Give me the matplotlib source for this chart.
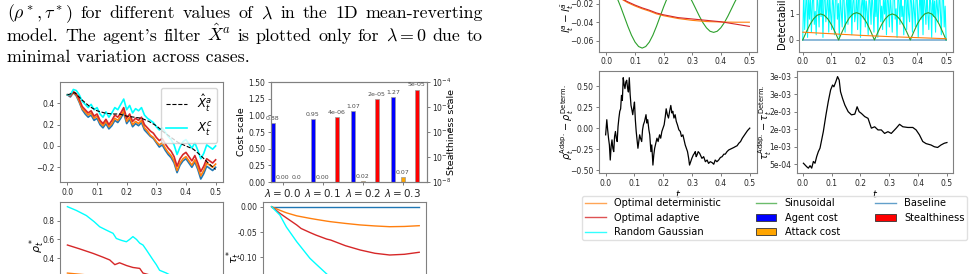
"""
Recreation of a paper-page crop: caption text plus several small panels
(state paths, cost/stealthiness bars, rho*/tau*, deviation and detectability plots).
"""
import numpy as np, matplotlib
matplotlib.use("Agg")
import matplotlib.pyplot as plt
from matplotlib.lines import Line2D
from matplotlib.patches import Patch
from matplotlib.ticker import FormatStrFormatter

W, H = 977, 274
BLUE, ORANGE, RED, GREEN, CYAN = "#1f77b4", "#ff7f0e", "#d62728", "#2ca02c", "cyan"

# ---- panel A: state paths -------------------------------------------------
t_paths = np.linspace(0, 0.5, 51)
x_red = [0.48, 0.47, 0.51, 0.49, 0.44, 0.37, 0.34, 0.31, 0.33, 0.28,
         0.30, 0.24, 0.21, 0.25, 0.20, 0.24, 0.29, 0.27, 0.31, 0.36,
         0.26, 0.30, 0.23, 0.26, 0.24, 0.27, 0.20, 0.17, 0.14, 0.12,
         0.08, 0.05, 0.07, 0.02, -0.02, -0.05, -0.10, -0.19, -0.12, -0.08,
         -0.06, -0.10, -0.14, -0.09, -0.16, -0.24, -0.19, -0.12, -0.14, -0.16, -0.13]
x_cyan = [0.48, 0.48, 0.53, 0.52, 0.48, 0.42, 0.39, 0.36, 0.39, 0.34,
          0.36, 0.30, 0.27, 0.32, 0.27, 0.31, 0.36, 0.34, 0.39, 0.44,
          0.34, 0.38, 0.31, 0.35, 0.33, 0.36, 0.29, 0.26, 0.24, 0.22,
          0.18, 0.15, 0.17, 0.13, 0.09, 0.06, 0.01, -0.08, -0.01, 0.04,
          0.06, 0.02, -0.02, 0.03, -0.04, -0.12, -0.07, 0.01, -0.01, -0.03, 0.00]
x_orange = [0.48, 0.47, 0.50, 0.48, 0.42, 0.35, 0.32, 0.29, 0.31, 0.26,
            0.28, 0.22, 0.19, 0.23, 0.18, 0.21, 0.26, 0.24, 0.28, 0.33,
            0.23, 0.27, 0.20, 0.23, 0.21, 0.24, 0.17, 0.14, 0.10, 0.08,
            0.04, 0.01, 0.03, -0.02, -0.06, -0.09, -0.14, -0.23, -0.16, -0.12,
            -0.10, -0.14, -0.18, -0.13, -0.20, -0.28, -0.23, -0.16, -0.18, -0.20, -0.17]
x_blue = [0.48, 0.46, 0.50, 0.47, 0.41, 0.34, 0.30, 0.27, 0.29, 0.24,
          0.26, 0.20, 0.17, 0.21, 0.16, 0.19, 0.24, 0.22, 0.26, 0.31,
          0.21, 0.25, 0.18, 0.21, 0.19, 0.22, 0.15, 0.12, 0.09, 0.07,
          0.03, -0.01, 0.01, -0.04, -0.08, -0.11, -0.16, -0.25, -0.18, -0.14,
          -0.12, -0.16, -0.20, -0.15, -0.22, -0.31, -0.26, -0.19, -0.21, -0.23, -0.20]
t_filter = np.linspace(0, 0.5, 21)
x_filter = [0.48, 0.50, 0.43, 0.37, 0.33, 0.31, 0.30, 0.30, 0.28, 0.27, 0.26,
            0.23, 0.19, 0.13, 0.08, 0.03, 0.00, -0.03, -0.09, -0.16, -0.22]

# ---- panel B: costs per lambda ---------------------------------------------
lambdas = ["0.0", "0.1", "0.2", "0.3"]
agent_cost = [0.88, 0.95, 1.07, 1.27]
attack_cost = [0.00, 0.00, 0.02, 0.07]
stealth = [0.0, 4e-06, 2e-05, 5e-05]

# ---- panel C: rho* --------------------------------------------------------
t_rho_c = [0.0, 0.03, 0.064, 0.09, 0.109, 0.131, 0.154, 0.165, 0.182, 0.199, 0.21,
           0.221, 0.233, 0.244, 0.255, 0.266, 0.289, 0.3, 0.311, 0.334, 0.38, 0.43, 0.5]
rho_cyan = [0.95, 0.91, 0.855, 0.79, 0.735, 0.70, 0.665, 0.61, 0.59, 0.575, 0.60,
            0.63, 0.60, 0.56, 0.54, 0.49, 0.38, 0.33, 0.27, 0.24, 0.16, 0.09, 0.02]
t_rho_r = [0.0, 0.04, 0.087, 0.12, 0.143, 0.16, 0.176, 0.2, 0.221, 0.244, 0.255, 0.3, 0.4, 0.5]
rho_red = [0.54, 0.50, 0.45, 0.41, 0.38, 0.33, 0.35, 0.32, 0.30, 0.29, 0.24, 0.20, 0.12, 0.05]
t_rho_o = [0.0, 0.1, 0.2, 0.3, 0.4, 0.5]
rho_orange = [0.24, 0.21, 0.18, 0.15, 0.12, 0.09]

# ---- panel D: tau* --------------------------------------------------------
t_tau = [0.0, 0.028, 0.05, 0.085, 0.1, 0.13, 0.15, 0.187, 0.2, 0.25, 0.3, 0.35, 0.4, 0.45, 0.5]
tau_orange = [0.0, -0.007, -0.012, -0.018, -0.0197, -0.023, -0.025, -0.0285, -0.0296,
              -0.033, -0.036, -0.038, -0.0395, -0.039, -0.0375]
tau_red = [0.0, -0.013, -0.022, -0.036, -0.043, -0.051, -0.056, -0.064, -0.0658,
           -0.077, -0.0855, -0.092, -0.0954, -0.094, -0.090]
tau_cyan = [0.0, -0.0164, -0.040, -0.069, -0.080, -0.102, -0.113, -0.133, -0.140,
            -0.162, -0.180, -0.192, -0.200, -0.204, -0.205]

# ---- panel E: l^a - l^abar ------------------------------------------------
t_e = np.linspace(0, 0.5, 41)
e_green = [0.0, -0.0017, -0.0065, -0.0140, -0.0235, -0.0340, -0.0445, -0.0540, -0.0615,
           -0.0663, -0.0680, -0.0663, -0.0615, -0.0540, -0.0445, -0.0340, -0.0235,
           -0.0140, -0.0065, -0.0017, 0.0, -0.0012, -0.0049, -0.0105, -0.0176, -0.0255,
           -0.0334, -0.0405, -0.0461, -0.0498, -0.0510, -0.0498, -0.0461, -0.0405,
           -0.0334, -0.0255, -0.0176, -0.0105, -0.0049, -0.0012, 0.0]
t_e2 = [0.0, 0.025, 0.05, 0.075, 0.1, 0.125, 0.15, 0.175, 0.2, 0.25, 0.3, 0.35, 0.4, 0.45, 0.5]
e_red = [0.0, -0.0075, -0.014, -0.018, -0.0215, -0.0245, -0.027, -0.030, -0.032,
         -0.035, -0.0365, -0.038, -0.0395, -0.042, -0.0445]
e_orange = [0.0, -0.008, -0.0145, -0.019, -0.0225, -0.0255, -0.028, -0.031, -0.033,
            -0.036, -0.038, -0.0393, -0.0398, -0.040, -0.040]

# ---- panel F: detectability -----------------------------------------------
det_cyan = [0.0, 1.9, 0.4, 1.2, 2.1, 0.1, 1.6, 0.8, 1.9, 0.3, 1.4, 2.0, 0.6, 1.1, 0.2, 1.8,
            1.3, 0.5, 2.1, 0.9, 1.7, 0.1, 1.5, 1.9, 0.7, 1.2, 2.0, 0.3, 1.6, 1.0, 0.4, 1.9,
            1.3, 0.2, 1.7, 2.1, 0.8, 1.4, 0.1, 1.8, 1.1, 0.5, 2.0, 1.5, 0.3, 1.2, 1.9, 0.6,
            1.6, 0.9, 2.1, 0.2, 1.4, 1.8, 0.7, 1.0, 1.9, 0.4, 1.6, 2.0, 0.1, 1.3, 1.7, 0.8,
            2.1, 0.5, 1.5, 1.1, 0.2, 1.9, 1.4, 0.6, 2.0, 1.2, 0.3, 1.7, 0.9, 1.8, 0.1, 1.5,
            2.1, 0.7, 1.3, 0.4, 1.9, 1.0, 1.6, 0.2, 2.0, 1.4, 0.5, 1.8, 1.1, 0.3, 1.7, 2.1,
            0.8, 1.2, 0.1, 1.9, 1.5, 0.6, 2.0, 0.9, 1.3, 0.2, 1.8, 1.6, 0.4, 2.1, 1.0, 0.7,
            1.9, 1.4, 0.3, 1.7, 1.1, 0.5, 2.0, 1.5, 0.1, 1.2, 1.8, 0.8, 1.6, 0.2, 2.1, 1.3,
            0.6, 1.9, 1.0, 0.4, 1.7, 1.4, 0.1, 2.0, 0.9, 1.5, 0.3, 1.8, 1.2, 0.7, 2.1, 1.1,
            0.2, 1.6, 1.9, 0.5, 1.3, 0.0]
t_det = np.linspace(0, 0.5, len(det_cyan))
t_arc = np.linspace(0, 0.5, 41)
det_green = [0.0, 0.31, 0.59, 0.81, 0.95, 1.0, 0.95, 0.81, 0.59, 0.31, 0.0,
             0.32, 0.62, 0.85, 1.0, 1.05, 1.0, 0.85, 0.62, 0.32, 0.0,
             0.31, 0.59, 0.81, 0.95, 1.0, 0.95, 0.81, 0.59, 0.31, 0.0,
             0.32, 0.62, 0.85, 1.0, 1.05, 1.0, 0.85, 0.62, 0.32, 0.0]
t_det_o = [0.0, 0.1, 0.2, 0.3, 0.4, 0.5]
det_orange = [0.30, 0.24, 0.18, 0.13, 0.09, 0.05]

# ---- panel G: rho adaptive - deterministic --------------------------------
t_g = [0.000, 0.004, 0.007, 0.010, 0.013, 0.016, 0.019, 0.022, 0.025, 0.028, 0.031, 0.034,
       0.037, 0.040, 0.043, 0.046, 0.049, 0.052, 0.055, 0.058, 0.061, 0.064, 0.067, 0.070,
       0.073, 0.076, 0.079, 0.082, 0.085, 0.088, 0.091, 0.094, 0.097, 0.100, 0.103, 0.106,
       0.109, 0.112, 0.115, 0.118, 0.121, 0.125, 0.128, 0.131, 0.135, 0.140, 0.143, 0.146,
       0.150, 0.153, 0.157, 0.160, 0.164, 0.167, 0.170, 0.174, 0.178, 0.182, 0.187, 0.191,
       0.195, 0.199, 0.203, 0.207, 0.210, 0.214, 0.218, 0.222, 0.226, 0.230, 0.233, 0.237,
       0.241, 0.245, 0.249, 0.254, 0.259, 0.263, 0.268, 0.272, 0.276, 0.280, 0.284, 0.288,
       0.291, 0.295, 0.299, 0.304, 0.308, 0.311, 0.314, 0.317, 0.321, 0.326, 0.330, 0.334,
       0.340, 0.346, 0.352, 0.357, 0.363, 0.369, 0.375, 0.380, 0.386, 0.392, 0.398, 0.404,
       0.410, 0.415, 0.421, 0.427, 0.433, 0.439, 0.445, 0.450, 0.456, 0.462, 0.468, 0.474,
       0.480, 0.486, 0.492, 0.500]
rho_diff = [-0.08, 0.10, -0.02, -0.12, -0.20, -0.38, -0.22, -0.14, -0.24, -0.28, -0.10, -0.04,
            -0.12, -0.16, 0.02, 0.12, 0.20, 0.23, 0.39, 0.33, 0.60, 0.52, 0.47, 0.55,
            0.57, 0.48, 0.43, 0.60, 0.40, 0.27, 0.22, 0.16, 0.24, 0.31, 0.10, -0.04,
            -0.14, -0.24, -0.16, -0.08, -0.12, -0.16, -0.02, 0.04, 0.08, 0.16, 0.06, 0.10,
            -0.02, -0.08, -0.28, -0.20, -0.44, -0.32, -0.24, -0.18, -0.12, -0.16, -0.08, -0.12,
            -0.04, 0.00, 0.04, 0.14, 0.23, 0.16, 0.12, 0.20, 0.27, 0.18, 0.20, 0.12,
            0.16, 0.08, 0.04, -0.02, -0.04, -0.10, -0.08, -0.14, -0.20, -0.24, -0.28, -0.36,
            -0.44, -0.40, -0.36, -0.32, -0.30, -0.28, -0.34, -0.32, -0.28, -0.30, -0.33, -0.36,
            -0.34, -0.40, -0.38, -0.42, -0.40, -0.41, -0.43, -0.38, -0.40, -0.38, -0.35, -0.34,
            -0.31, -0.31, -0.28, -0.26, -0.25, -0.24, -0.23, -0.22, -0.21, -0.18, -0.16, -0.12,
            -0.09, -0.06, -0.03, 0.00]

# ---- panel H: tau adaptive - deterministic --------------------------------
t_h = [0.0023, 0.0138, 0.0195, 0.0253, 0.031, 0.0368, 0.0425, 0.0483, 0.054, 0.0598,
       0.0713, 0.0805, 0.0885, 0.0966, 0.1034, 0.108, 0.1149, 0.1207, 0.1264, 0.131,
       0.1379, 0.146, 0.1575, 0.169, 0.1805, 0.1885, 0.1954, 0.2034, 0.2149, 0.2264,
       0.2379, 0.2494, 0.2609, 0.2724, 0.2839, 0.2954, 0.3069, 0.3241, 0.3356, 0.3471,
       0.3644, 0.3816, 0.3931, 0.4046, 0.4161, 0.4276, 0.4448, 0.4563, 0.4678, 0.4793,
       0.4908, 0.5]
tau_diff = [0.00053, 0.00043, 0.00039, 0.00046, 0.00039, 0.00058, 0.00053, 0.00072, 0.00086,
            0.00096, 0.00143, 0.00191, 0.00229, 0.00262, 0.00276, 0.00271, 0.00286, 0.00300,
            0.00290, 0.00257, 0.00238, 0.00219, 0.00200, 0.00191, 0.00193, 0.00214, 0.00200,
            0.00195, 0.00186, 0.00181, 0.00153, 0.00157, 0.00148, 0.00148, 0.00138, 0.00143,
            0.00138, 0.00153, 0.00164, 0.00157, 0.00155, 0.00155, 0.00148, 0.00134, 0.00115,
            0.00109, 0.00105, 0.00100, 0.00098, 0.00105, 0.00110, 0.00112]

fig = plt.figure(figsize=(W / 100, H / 100), dpi=100)


def box(l, t, r, b):
    # axes from pixel edges (left, top, right, bottom), y measured from the top
    return fig.add_axes([l / W, 1 - b / H, (r - l) / W, (b - t) / H])


def style(ax):
    for s in ax.spines.values():
        s.set_color("0.5"); s.set_linewidth(0.8)
    ax.tick_params(labelsize=5.5, length=2.5, width=0.6, color="0.4",
                   labelcolor="0.15", pad=1.5)


def ylab(ax, text, cx, size=7):
    bb = ax.get_position()
    fig.text(cx / W, (bb.y0 + bb.y1) / 2, text, rotation=90, ha="center",
             va="center", fontsize=size)


# caption text, justified word by word
def justify(tokens, base_y, x0, x1, size):
    txts = [fig.text(0, 1 - base_y / H, tk, fontsize=size, family=["cmr10", "DejaVu Serif"],
                     math_fontfamily="cm", va="baseline") for tk in tokens]
    r = fig.canvas.get_renderer()
    ws = [tx.get_window_extent(r).width for tx in txts]
    gap = (x1 - x0 - sum(ws)) / max(len(tokens) - 1, 1)
    x = x0
    for tx, w in zip(txts, ws):
        tx.set_x(x / W); x += w + gap

FS = 12.9
justify([r"$(\rho^*, \tau^*)$", "for", "different", "values", "of", r"$\lambda$", "in",
         "the", "1D", "mean-reverting"], 18.3, 7, 483, FS)
justify(["model.", "The", "agent's", "filter", r"$\hat{X}^a$", "is", "plotted", "only",
         "for", r"$\lambda = 0$", "due", "to"], 40.7, 7, 483, FS)
fig.text(7 / W, 1 - 62.3 / H, "minimal variation across cases.", fontsize=FS,
         family=["cmr10", "DejaVu Serif"], va="baseline")

# A
axA = box(60, 82, 223, 182); style(axA)
axA.plot(t_paths, x_blue, color=BLUE, lw=1.2)
axA.plot(t_paths, x_orange, color=ORANGE, lw=1.2)
axA.plot(t_paths, x_red, color=RED, lw=1.2)
axA.plot(t_paths, x_cyan, color=CYAN, lw=1.2, label=r"$X^c_t$")
axA.plot(t_filter, x_filter, "k--", lw=0.8, label=r"$\hat{X}^a_t$")
h, l = axA.get_legend_handles_labels()
axA.legend(h[::-1], l[::-1], loc="upper right", fontsize=8.5, handlelength=1.8,
           borderpad=0.4, labelspacing=0.55, handletextpad=0.8)
axA.set_xlim(-0.025, 0.525); axA.set_ylim(-0.338, 0.6)
axA.set_yticks([-0.2, 0.0, 0.2, 0.4])

# B
axB = box(270.7, 82, 426.7, 182); style(axB)
pos = np.arange(len(lambdas))
axB.bar(pos - 0.245, agent_cost, 0.115, color="blue", edgecolor="0.6", lw=0.5)
axB.bar(pos, attack_cost, 0.1, color="orange", edgecolor="0.6", lw=0.5)
axB.set_ylim(0, 1.5); axB.set_xlim(-0.30, 3.6)
axB.set_yticks(np.arange(0, 1.51, 0.25))
axB.set_xticks(pos, [rf"$\lambda = {v}$" for v in lambdas], fontsize=7.5)
axB.tick_params(axis="x", pad=1)
for p, v in zip(pos, agent_cost):
    axB.annotate(f"{v:.2f}", (p - 0.245, v), xytext=(0, 1.5), textcoords="offset points",
                 ha="center", va="bottom", fontsize=4.5, color="0.3")
for p, v in zip(pos, attack_cost):
    axB.annotate(f"{v:.2f}", (p, v), xytext=(0, 1.5), textcoords="offset points",
                 ha="center", va="bottom", fontsize=4.5, color="0.3")
axB2 = axB.twinx(); style(axB2)
axB2.set_yscale("log"); axB2.set_ylim(1e-8, 1e-4)
axB2.tick_params(which="minor", length=0)
for p, v in zip(pos, stealth):
    if v > 0:
        axB2.bar(p + 0.355, v - 1e-8, 0.115, bottom=1e-8, color="red", edgecolor="0.6", lw=0.5)
    axB2.annotate("0.0" if v == 0 else f"{v:.0e}", (p + 0.355, max(v, 1e-8)), xytext=(0, 1.5),
                  textcoords="offset points", ha="center", va="bottom", fontsize=4.5, color="0.3")
ylab(axB, "Cost scale", 241.7, 6.8)
ylab(axB, "Stealthiness scale", 452, 6.8)

# C
axC = box(60, 202, 223, 290); style(axC)
axC.plot(t_rho_o, rho_orange, color=ORANGE, lw=1)
axC.plot(t_rho_r, rho_red, color=RED, lw=1)
axC.plot(t_rho_c, rho_cyan, color=CYAN, lw=1)
axC.set_xlim(-0.025, 0.525); axC.set_ylim(0.059, 1.0)
axC.set_yticks([0.4, 0.6, 0.8])
ylab(axC, r"$\rho^*_t$", 37, 8)

# D
axD = box(263.3, 201.7, 426, 312); style(axD)
axD.plot(t_tau, [0.0] * len(t_tau), color=BLUE, lw=1)
axD.plot(t_tau, tau_orange, color=ORANGE, lw=1)
axD.plot(t_tau, tau_red, color=RED, lw=1)
axD.plot(t_tau, tau_cyan, color=CYAN, lw=1)
axD.set_xlim(-0.028, 0.523); axD.set_ylim(-0.208, 0.0099)
axD.set_yticks([-0.10, -0.05, 0.00])
axD.yaxis.set_major_formatter(FormatStrFormatter("%.2f"))
ylab(axD, r"$\tau^*_t$", 234, 8)

# E
axE = box(599.3, -17, 756.5, 51.7); style(axE)
axE.plot(t_e2, [0.0] * len(t_e2), color=BLUE, lw=0.8)
axE.plot(t_e, e_green, color=GREEN, lw=0.8)
axE.plot(t_e2, e_orange, color=ORANGE, lw=0.8)
axE.plot(t_e2, e_red, color=RED, lw=0.8)
axE.set_xlim(-0.025, 0.525); axE.set_ylim(-0.0719, 0.0024)
axE.set_yticks([-0.06, -0.04, -0.02, 0.0])
ylab(axE, r"$l^a_t - l^{\bar{a}}_t$", 568, 7.5)

# F
axF = box(799.3, -17, 953.3, 51.7); style(axF)
axF.plot(t_det, det_cyan, color=CYAN, lw=0.8)
axF.plot(t_arc, [0.0] * len(t_arc), color=BLUE, lw=1.2, alpha=0.6)
axF.plot(t_arc, det_green, color=GREEN, lw=0.8)
axF.plot(t_det_o, det_orange, color=ORANGE, lw=0.8)
axF.set_xlim(-0.012, 0.525); axF.set_ylim(-0.45, 2.19)
axF.set_yticks([0, 1, 2])
ylab(axF, "Detectability", 781.5, 7)

# G
axG = box(599.3, 71, 756.7, 173.3); style(axG)
axG.plot(t_g, rho_diff, color="k", lw=0.9)
axG.set_xlim(-0.022, 0.524); axG.set_ylim(-0.538, 0.68)
axG.set_xlabel(r"$t$", fontsize=7, labelpad=0)
ylab(axG, r"$\rho_t^{\mathrm{Adap.}} - \rho_t^{\mathrm{Determ.}}$", 567, 7)

# H
axH = box(796.7, 71, 952.7, 173.3); style(axH)
axH.plot(t_h, tau_diff, color="k", lw=0.9)
axH.set_xlim(-0.021, 0.52); axH.set_ylim(0.000243, 0.00316)
axH.set_yticks(np.arange(0.0005, 0.00301, 0.0005))
axH.yaxis.set_major_formatter(FormatStrFormatter("%.0e"))
axH.set_xlabel(r"$t$", fontsize=7, labelpad=0)
ylab(axH, r"$\tau_t^{\mathrm{Adap.}} - \tau_t^{\mathrm{Determ.}}$", 765, 7)

for ax in (axA, axC, axD, axE, axF, axG, axH):
    ax.set_xticks([0.0, 0.1, 0.2, 0.3, 0.4, 0.5])

# shared legend
handles = [Line2D([], [], color=ORANGE, lw=1, alpha=0.7), Line2D([], [], color=RED, lw=1, alpha=0.8),
           Line2D([], [], color=CYAN, lw=1, alpha=0.8), Line2D([], [], color=GREEN, lw=1, alpha=0.7),
           Patch(fc="blue", ec="0.2", lw=0.6), Patch(fc="orange", ec="0.2", lw=0.6),
           Line2D([], [], color=BLUE, lw=1, alpha=0.7), Patch(fc="red", ec="0.2", lw=0.6)]
labels = ["Optimal deterministic", "Optimal adaptive", "Random Gaussian", "Sinusoidal",
          "Agent cost", "Attack cost", "Baseline", "Stealthiness"]
fig.legend(handles, labels, ncol=3, loc="upper left", bbox_to_anchor=(582.3 / W, 1 - 196 / H),
           fontsize=7.15, columnspacing=3.5, labelspacing=0.45, handlelength=2.1,
           handletextpad=0.84, borderpad=0.25, borderaxespad=0, edgecolor="0.85")

fig.savefig("out.png", dpi=100)
